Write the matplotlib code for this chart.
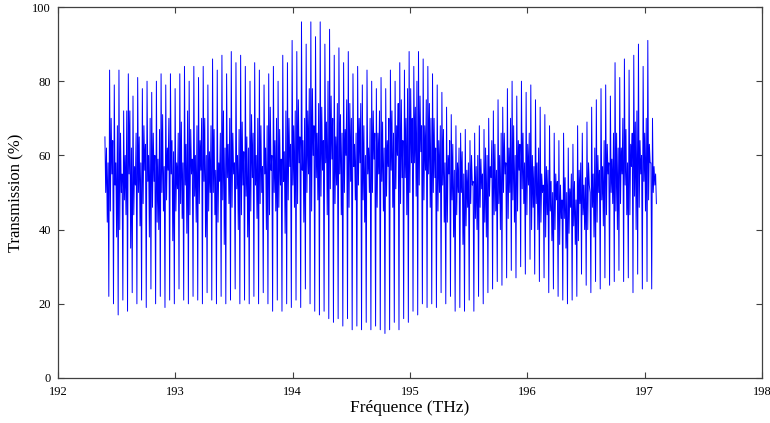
import numpy as np
import matplotlib
matplotlib.use("Agg")
import matplotlib.pyplot as plt

# bornes de la mesure (THz)
f_start = 192.4
f_stop = 197.1

# valeurs, une par frange (%)
peaks = [65, 83, 79, 83, 72, 82, 76, 81, 78, 80,
         77, 80, 82, 79, 82, 78, 82, 84, 80, 84,
         81, 84, 79, 86, 83, 87, 82, 88, 85, 87,
         84, 80, 85, 83, 79, 82, 84, 80, 87, 85,
         91, 88, 96, 90, 96, 92, 96, 90, 94, 87,
         89, 85, 88, 82, 84, 79, 83, 80, 78, 81,
         78, 83, 80, 85, 83, 88, 84, 88, 86, 84,
         82, 79, 77, 73, 71, 68, 66, 67, 64, 66,
         68, 67, 70, 72, 75, 73, 78, 80, 76, 80,
         77, 79, 75, 73, 71, 68, 66, 64, 66, 62,
         63, 68, 66, 69, 73, 75, 78, 79, 76, 85,
         81, 86, 83, 87, 90, 84, 91, 70]

mid_lo = [50, 45, 52, 40, 48, 55, 44, 50, 47, 53,
          46, 42, 50, 48, 55, 45, 47, 52, 44, 49,
          47, 53, 45, 50, 42, 48, 54, 46, 51, 44,
          49, 45, 52, 47, 55, 44, 50, 46, 53, 48,
          52, 47, 56, 50, 45, 54, 49, 58, 51, 47,
          55, 50, 46, 57, 52, 48, 55, 50, 46, 53,
          49, 56, 51, 47, 54, 50, 58, 52, 48, 55,
          50, 45, 52, 42, 48, 44, 50, 41, 47, 43,
          46, 42, 49, 44, 47, 50, 43, 48, 45, 51,
          44, 40, 47, 42, 38, 45, 40, 36, 43, 39,
          41, 37, 44, 40, 46, 42, 48, 44, 50, 45,
          47, 52, 44, 49, 46, 53, 48, 50]

mid_hi = [62, 70, 58, 66, 60, 72, 57, 65, 68, 60,
          66, 59, 71, 62, 64, 58, 69, 63, 67, 60,
          64, 70, 61, 67, 58, 72, 63, 66, 60, 69,
          65, 71, 60, 68, 62, 73, 64, 67, 61, 70,
          68, 75, 64, 72, 78, 66, 73, 69, 76, 65,
          71, 67, 74, 63, 70, 68, 62, 72, 66, 69,
          64, 72, 68, 75, 70, 78, 73, 76, 68, 74,
          70, 64, 67, 60, 63, 58, 61, 56, 60, 57,
          59, 62, 57, 63, 60, 66, 62, 68, 64, 66,
          63, 60, 58, 55, 57, 53, 55, 52, 54, 51,
          53, 56, 52, 58, 55, 60, 57, 63, 59, 66,
          62, 67, 63, 69, 64, 66, 63, 57]

mid_lo2 = [42, 55, 38, 50, 44, 35, 52, 41, 56, 38,
           53, 40, 45, 56, 37, 51, 43, 39, 55, 42,
           56, 38, 50, 44, 53, 36, 47, 55, 40, 52,
           38, 54, 43, 50, 40, 56, 45, 52, 39, 57,
           46, 58, 42, 55, 60, 48, 56, 44, 59, 52,
           44, 60, 53, 48, 58, 42, 50, 59, 55, 45,
           57, 46, 60, 54, 44, 58, 49, 61, 56, 46,
           54, 50, 42, 55, 38, 50, 36, 46, 52, 40,
           51, 38, 54, 45, 40, 55, 50, 42, 56, 47,
           52, 46, 40, 50, 44, 37, 48, 43, 35, 46,
           36, 47, 40, 52, 38, 50, 41, 55, 47, 40,
           55, 44, 57, 40, 55, 45, 58, 52]

mid_hi2 = [58, 64, 68, 55, 72, 62, 66, 58, 63, 70,
           60, 67, 57, 70, 61, 66, 58, 72, 59, 68,
           70, 60, 68, 56, 66, 62, 70, 58, 67, 61,
           62, 66, 70, 57, 68, 60, 70, 59, 72, 63,
           72, 65, 70, 78, 68, 74, 64, 80, 70, 74,
           66, 75, 70, 66, 74, 60, 70, 66, 72, 62,
           70, 66, 74, 64, 78, 70, 80, 68, 75, 70,
           62, 68, 58, 64, 56, 62, 55, 58, 53, 60,
           55, 60, 64, 56, 66, 58, 70, 60, 63, 58,
           66, 57, 62, 52, 56, 50, 53, 48, 50, 55,
           48, 58, 54, 50, 62, 56, 64, 58, 66, 62,
           70, 58, 66, 72, 60, 70, 58, 55]

dips = [22, 20, 17, 21, 18, 23, 20, 21, 19, 24,
        20, 22, 19, 21, 20, 24, 21, 20, 22, 21,
        20, 23, 21, 20, 22, 20, 21, 24, 20, 21,
        20, 22, 20, 23, 20, 18, 21, 18, 20, 19,
        21, 19, 24, 20, 18, 17, 18, 16, 15, 16,
        14, 16, 13, 14, 13, 15, 13, 14, 13, 12,
        13, 15, 13, 16, 15, 18, 17, 20, 19, 20,
        19, 23, 20, 22, 18, 19, 18, 21, 18, 22,
        20, 23, 24, 26, 25, 27, 29, 27, 30, 28,
        32, 28, 26, 27, 23, 24, 22, 21, 20, 21,
        22, 28, 25, 23, 26, 24, 27, 25, 26, 29,
        26, 27, 23, 28, 24, 26, 24, 47]

plt.rcParams['font.family'] = ['Liberation Serif', 'DejaVu Serif']

# on enchaine les points de chaque frange : pic, oscillations, creux
trans = np.column_stack([peaks, mid_lo, mid_hi, mid_lo2, mid_hi2, dips]).ravel()
freq = np.linspace(f_start, f_stop, len(trans))

fig = plt.figure(figsize=(7.7, 4.23), dpi=100)
ax = fig.add_axes([0.0753, 0.1064, 0.9143, 0.877])
ax.plot(freq, trans, color='#0000ff', linewidth=0.7)

ax.set_xlim(192, 198)
ax.set_ylim(0, 100)
ax.set_xticks(np.arange(192, 199, 1))
ax.set_yticks(np.arange(0, 101, 20))
ax.tick_params(direction='in', top=True, right=True, length=4,
               width=0.8, color='#404040', labelsize=9)
ax.tick_params(axis='x', pad=6)
ax.tick_params(axis='y', pad=5)
for s in ax.spines.values():
    s.set_color('#404040')
    s.set_linewidth(0.9)

ax.set_xlabel('Fréquence (THz)', fontsize=12.5, labelpad=1)
ax.set_ylabel('Transmission (%)', fontsize=12, labelpad=6)

fig.savefig('out.png', dpi=100)
